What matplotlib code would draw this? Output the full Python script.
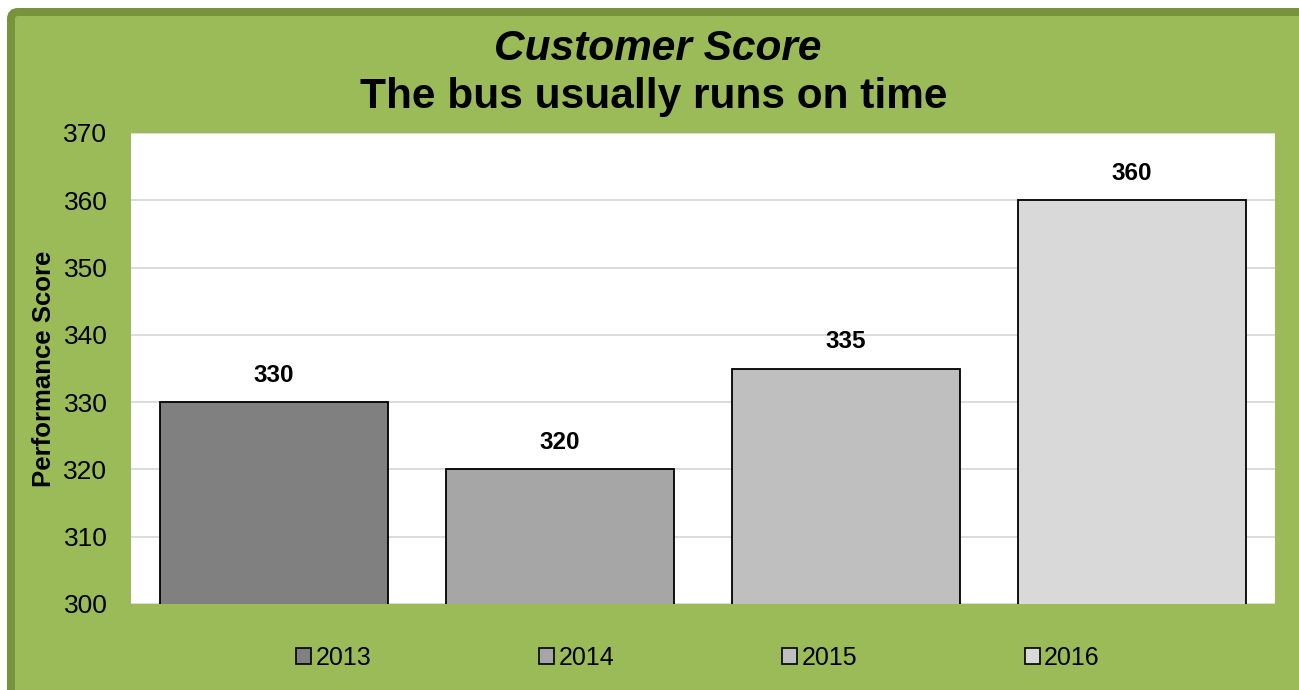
import matplotlib
matplotlib.use("Agg")
import matplotlib.pyplot as plt
from matplotlib.patches import FancyBboxPatch, Patch

years = ["2013", "2014", "2015", "2016"]
scores = [330, 320, 335, 360]
bar_colors = ["#808080", "#a6a6a6", "#bfbfbf", "#d9d9d9"]
y_ticks = [300, 310, 320, 330, 340, 350, 360, 370]

W, H = 1299, 690
plt.rcParams["font.family"] = ["Liberation Sans", "DejaVu Sans"]

fig = plt.figure(figsize=(W / 100, H / 100), dpi=100, facecolor="white")

# background panel in pixel coordinates
bg = fig.add_axes([0, 0, 1, 1], zorder=-5)
bg.set_xlim(0, W)
bg.set_ylim(H, 0)
bg.axis("off")
bg.add_patch(FancyBboxPatch((11, 12), 1300, 700,
                            boxstyle="round,pad=0,rounding_size=7",
                            facecolor="#9bbb59", edgecolor="#77933c",
                            linewidth=8 * 0.72))

ax = fig.add_axes([131 / W, (H - 604) / H, 1144 / W, 471 / H])
ax.set_facecolor("white")
x = range(len(years))
ax.bar(x, scores, width=0.8, color=bar_colors, edgecolor="black",
       linewidth=1.3, zorder=3)
for xi, v in zip(x, scores):
    ax.annotate(str(v), (xi, v), xytext=(0, 14.4), textcoords="offset points",
                ha="center", va="baseline", fontsize=17.5, fontweight="bold")

ax.set_ylim(300, 370)
ax.set_xlim(-0.5, 3.5)
ax.set_yticks(y_ticks)
ax.set_xticks([])
ax.yaxis.grid(True, color="#d9d9d9", linewidth=1.3, zorder=0)
for s in ax.spines.values():
    s.set_visible(False)
ax.tick_params(axis="y", length=0, pad=17, labelsize=19)
ax.set_ylabel("Performance Score", fontsize=18.5, fontweight="bold")
ax.yaxis.set_label_coords((56 - 131) / 1144, 0.5)

fig.text(658 / W, 1 - 60 / H, "Customer Score", ha="center", va="baseline",
         fontsize=30.5, fontstyle="italic", fontweight="bold")
fig.text(653.5 / W, 1 - 108 / H, "The bus usually runs on time", ha="center",
         va="baseline", fontsize=30.5, fontweight="bold")

handles = [Patch(facecolor=c, edgecolor="black", linewidth=1.2) for c in bar_colors]
fig.legend(handles, years, loc="center", bbox_to_anchor=(698 / W, 1 - 658 / H),
           ncol=4, frameon=False, handlelength=0.6, handleheight=0.6,
           handletextpad=0.18, columnspacing=6.7, borderpad=0,
           prop={"size": 18})

fig.savefig("out.png", dpi=100, facecolor="white")
